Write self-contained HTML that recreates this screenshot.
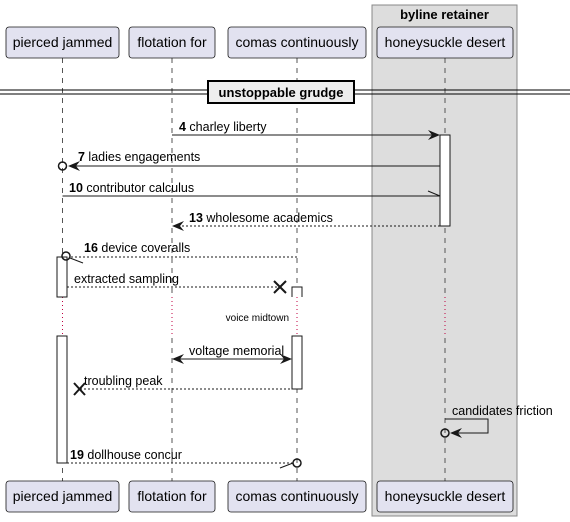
<!DOCTYPE html>
<html><head><style>
html,body{margin:0;padding:0;background:#fff;}
svg{display:block;}
text{font-family:"Liberation Sans",sans-serif;fill:#000;}
</style></head><body>
<svg width="570" height="522" viewBox="0 0 570 522" xmlns="http://www.w3.org/2000/svg">
<rect x="372" y="5" width="145" height="511" fill="#dddddd" stroke="#888" stroke-width="1"/>
<text x="444.5" y="19" font-size="13" font-weight="bold" text-anchor="middle">byline retainer</text>
<g stroke="#555" stroke-dasharray="5,5" stroke-width="1">
<line x1="62.5" y1="58" x2="62.5" y2="481"/>
<line x1="172" y1="58" x2="172" y2="481"/>
<line x1="297" y1="58" x2="297" y2="481"/>
<line x1="445" y1="58" x2="445" y2="481"/>
</g>
<rect x="50" y="297" width="20" height="39" fill="#fff"/>
<rect x="160" y="297" width="20" height="39" fill="#fff"/>
<rect x="285" y="297" width="20" height="39" fill="#fff"/>
<rect x="435" y="297" width="20" height="39" fill="#ddd"/>
<g stroke="#c00040" stroke-dasharray="1,3" stroke-width="1">
<line x1="62.5" y1="297" x2="62.5" y2="336"/>
<line x1="172" y1="297" x2="172" y2="336"/>
<line x1="297" y1="297" x2="297" y2="336"/>
<line x1="445" y1="297" x2="445" y2="336"/>
</g>
<text x="289" y="321" font-size="10" text-anchor="end">voice midtown</text>
<g fill="#e2e2f0" stroke="#181818" stroke-width="0.8">
<rect x="6" y="27" width="113" height="31" rx="3"/>
<rect x="129" y="27" width="86" height="31" rx="3"/>
<rect x="228" y="27" width="138" height="31" rx="3"/>
<rect x="377" y="27" width="136" height="31" rx="3"/>
<rect x="6" y="481" width="113" height="31" rx="3"/>
<rect x="129" y="481" width="86" height="31" rx="3"/>
<rect x="228" y="481" width="138" height="31" rx="3"/>
<rect x="377" y="481" width="136" height="31" rx="3"/>
</g>
<g font-size="14" text-anchor="middle">
<text x="62.5" y="47">pierced jammed</text>
<text x="172" y="47">flotation for</text>
<text x="297" y="47">comas continuously</text>
<text x="445" y="47">honeysuckle desert</text>
<text x="62.5" y="501">pierced jammed</text>
<text x="172" y="501">flotation for</text>
<text x="297" y="501">comas continuously</text>
<text x="445" y="501">honeysuckle desert</text>
</g>
<line x1="0" y1="90" x2="570" y2="90" stroke="#000"/>
<line x1="0" y1="94" x2="570" y2="94" stroke="#000"/>
<rect x="208" y="81" width="146" height="22" fill="#eee" stroke="#000" stroke-width="2"/>
<text x="281" y="97" font-size="13" font-weight="bold" text-anchor="middle">unstoppable grudge</text>
<g fill="#fff" stroke="#181818" stroke-width="1">
<rect x="440" y="135" width="10" height="91"/>
<rect x="57" y="257" width="10" height="40"/>
<rect x="57" y="336" width="10" height="127"/>
<rect x="292" y="336" width="10" height="53"/>
</g>
<path d="M292,297 V287 H302 V297" fill="#fff" stroke="#181818"/>
<g stroke="#181818" stroke-width="1" fill="none">
<line x1="172" y1="135" x2="438" y2="135"/>
<line x1="70" y1="166" x2="440" y2="166"/>
<line x1="62.5" y1="196" x2="440" y2="196"/>
<line x1="428" y1="191" x2="440" y2="196"/>
<line x1="174" y1="226" x2="440" y2="226" stroke-dasharray="2,2"/>
<line x1="71" y1="257" x2="297" y2="257" stroke-dasharray="2,2"/>
<line x1="70" y1="258" x2="83" y2="263"/>
<line x1="67" y1="287" x2="280" y2="287" stroke-dasharray="2,2"/>
<line x1="174" y1="359" x2="290" y2="359"/>
<line x1="80" y1="389" x2="292" y2="389" stroke-dasharray="2,2"/>
<polyline points="445,419 488,419 488,433 452,433"/>
<line x1="67" y1="463" x2="293" y2="463" stroke-dasharray="2,2"/>
<line x1="280" y1="468" x2="293" y2="463"/>
<circle cx="62.5" cy="166" r="4" stroke-width="1.5"/>
<circle cx="66" cy="256" r="4" stroke-width="1.5"/>
<circle cx="445" cy="433" r="4" stroke-width="1.5"/>
<circle cx="297" cy="463" r="4" stroke-width="1.5"/>
<g stroke-width="2">
<line x1="274" y1="281" x2="286" y2="293"/><line x1="274" y1="293" x2="286" y2="281"/>
<line x1="74" y1="383" x2="85" y2="395"/><line x1="74" y1="395" x2="85" y2="383"/>
</g>
</g>
<g fill="#181818">
<polygon points="440,135 428,130 432,135 428,140"/>
<polygon points="68,166 80,161 76,166 80,171"/>
<polygon points="172,226 184,221 180,226 184,231"/>
<polygon points="172,359 184,354 180,359 184,364"/>
<polygon points="292,359 280,354 284,359 280,364"/>
<polygon points="450,433 462,428 458,433 462,438"/>
</g>
<g font-size="12.5">
<text x="179" y="131"><tspan font-weight="bold">4</tspan> charley liberty</text>
<text x="78" y="161"><tspan font-weight="bold">7</tspan> ladies engagements</text>
<text x="69" y="192"><tspan font-weight="bold">10</tspan> contributor calculus</text>
<text x="189" y="222"><tspan font-weight="bold">13</tspan> wholesome academics</text>
<text x="84" y="252"><tspan font-weight="bold">16</tspan> device coveralls</text>
<text x="74" y="283">extracted sampling</text>
<text x="189" y="355">voltage memorial</text>
<text x="84" y="385">troubling peak</text>
<text x="452" y="415">candidates friction</text>
<text x="70" y="459"><tspan font-weight="bold">19</tspan> dollhouse concur</text>
</g>
</svg>
</body></html>
